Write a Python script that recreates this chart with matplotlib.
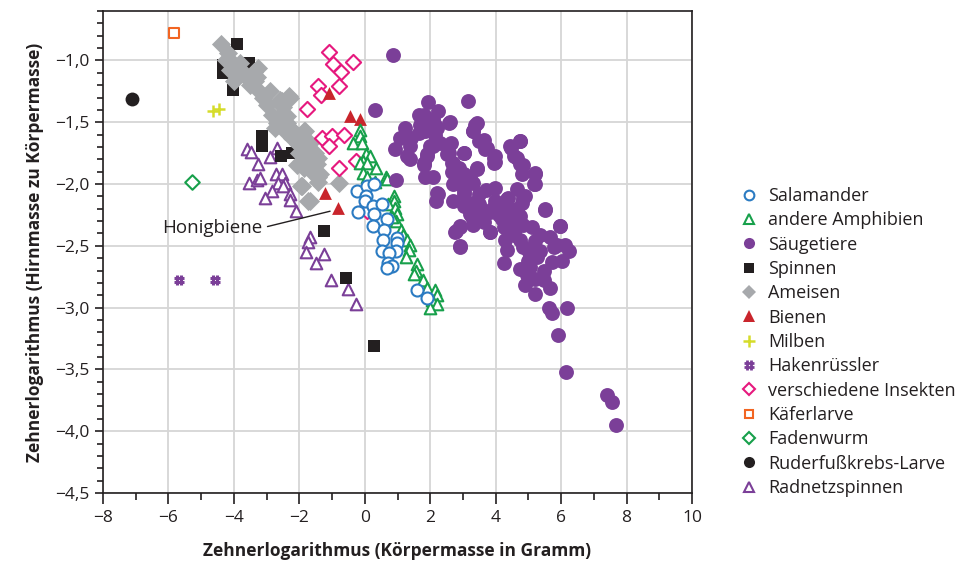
import matplotlib
matplotlib.use("Agg")
import matplotlib.pyplot as plt
from matplotlib.path import Path
from matplotlib.lines import Line2D
from matplotlib.ticker import MultipleLocator, FuncFormatter

plt.rcParams['font.family'] = ['Open Sans', 'DejaVu Sans']

# ---------------- data ----------------
salamander_x = [-0.23, 0.07, 0.29, 0.04, 0.01, -0.20, 0.26, 0.29, 0.53, 0.68, 0.26, 0.59, 0.56,
                0.99, 0.99, 0.96, 0.53, 0.75, 0.72, 0.84, 0.68, 1.60, 1.91]
salamander_y = [-2.06, -2.02, -2.00, -2.10, -2.14, -2.23, -2.18, -2.24, -2.16, -2.28, -2.34, -2.37, -2.45,
                -2.44, -2.48, -2.54, -2.54, -2.56, -2.64, -2.66, -2.68, -2.86, -2.92]

amphib_x = [-0.16, -0.14, -0.35, -0.09, 0.04, 0.17, -0.04, -0.14, 0.08, 0.34, -0.04, 0.08, 0.65, 0.30,
            0.69, 0.88, 0.88, 0.72, 0.93, 0.98, 0.96, 0.83, 1.10, 1.18, 1.29, 1.39, 1.34, 1.27, 1.59,
            1.57, 1.49, 1.78, 1.90, 2.15, 2.20, 2.05, 2.20, 2.00]
amphib_y = [-1.56, -1.61, -1.67, -1.67, -1.76, -1.77, -1.81, -1.83, -1.83, -1.87, -1.91, -1.94, -1.94, -1.98,
            -1.96, -2.10, -2.14, -2.16, -2.19, -2.24, -2.30, -2.27, -2.37, -2.41, -2.45, -2.49, -2.53, -2.59, -2.65,
            -2.70, -2.73, -2.78, -2.84, -2.86, -2.90, -2.94, -2.97, -3.00]

mammal_x = [0.85, 3.14, 1.93, 2.25, 1.67, 2.08, 2.59, 3.43, 1.24, 1.83, 2.20, 3.32, 1.66, 1.08, 1.42, 2.15,
            3.63, 4.75, 2.63, 2.00, 1.39, 0.93, 4.48, 3.73, 3.02, 2.51, 1.90, 1.29, 3.94, 4.55, 1.39, 2.66,
            1.80, 3.99, 4.75, 2.87, 3.43, 2.66, 1.85, 2.10, 3.02, 3.22, 4.80, 5.21, 0.96, 2.92, 3.32, 5.19,
            3.99, 4.65, 2.20, 3.02, 3.48, 4.91, 4.39, 3.99, 2.18, 2.71, 3.32, 4.80, 3.02, 3.53, 4.29, 4.65,
            5.52, 3.83, 3.22, 4.75, 3.53, 4.19, 4.50, 3.32, 3.63, 2.92, 5.98, 4.85, 5.11, 4.24, 2.79, 3.83,
            5.37, 4.55, 4.29, 4.75, 5.21, 5.67, 5.87, 6.13, 6.23, 2.90, 4.35, 4.85, 5.01, 5.37, 5.77, 5.26,
            5.72, 6.03, 4.24, 4.75, 5.06, 5.47, 4.96, 5.21, 4.91, 5.47, 5.67, 5.21, 5.62, 5.72, 6.18, 5.90,
            6.16, 7.40, 7.56, 7.69, 0.32,
            1.80, 1.69, 1.85, 2.15, 2.56, 2.31, 2.10, 1.90, 1.80, 3.38, 3.32, 3.48, 3.68, 3.99, 3.94, 4.45,
            4.75, 4.65, 4.85, 5.21, 5.16, 2.56, 2.71, 3.02, 2.92, 3.43, 2.92, 3.02, 4.35, 4.85, 5.52, 5.98,
            3.83, 3.89, 4.14, 3.48, 3.28, 4.45, 5.06, 2.90, 2.76, 2.25, 2.71, 2.90, 4.60, 5.00, 3.70, 4.10]
mammal_y = [-0.96, -1.33, -1.34, -1.41, -1.44, -1.47, -1.50, -1.51, -1.55, -1.53, -1.55, -1.57, -1.59, -1.63,
            -1.63, -1.60, -1.64, -1.65, -1.67, -1.69, -1.69, -1.72, -1.71, -1.71, -1.75, -1.76, -1.77, -1.77,
            -1.79, -1.77, -1.80, -1.83, -1.85, -1.82, -1.84, -1.87, -1.87, -1.90, -1.94, -1.94, -1.92, -1.95,
            -1.92, -1.92, -1.97, -1.99, -1.99, -2.00, -2.03, -2.04, -2.07, -2.08, -2.08, -2.10, -2.11, -2.14,
            -2.14, -2.14, -2.15, -2.15, -2.18, -2.19, -2.19, -2.20, -2.21, -2.23, -2.24, -2.26, -2.27, -2.28,
            -2.30, -2.33, -2.31, -2.34, -2.34, -2.33, -2.35, -2.35, -2.38, -2.39, -2.41, -2.41, -2.45, -2.45,
            -2.46, -2.43, -2.49, -2.49, -2.54, -2.51, -2.53, -2.51, -2.55, -2.54, -2.51, -2.59, -2.63, -2.62,
            -2.64, -2.69, -2.67, -2.70, -2.74, -2.77, -2.82, -2.78, -2.84, -2.89, -3.00, -3.04, -3.00, -3.22,
            -3.52, -3.71, -3.76, -3.95, -1.40,
            -1.44, -1.52, -1.57, -1.52, -1.51, -1.67, -1.69, -1.76, -1.83, -1.52, -1.57, -1.65, -1.72, -1.77,
            -1.83, -1.69, -1.65, -1.79, -1.85, -1.91, -2.00, -1.75, -1.83, -1.75, -1.98, -1.88, -1.98, -2.06,
            -2.12, -2.11, -2.20, -2.34, -2.39, -2.20, -2.20, -2.16, -2.27, -2.27, -2.57, -2.35, -2.39, -2.08,
            -2.00, -2.50, -2.36, -2.62, -2.05, -2.25]

spider_x = [-3.90, -4.32, -4.32, -3.54, -4.03, -3.14, -3.14, -2.57, -2.23, -1.26, -0.57, 0.27]
spider_y = [-0.87, -1.04, -1.10, -1.02, -1.24, -1.61, -1.69, -1.77, -1.75, -2.38, -2.76, -3.31]

ant_x = [-4.40, -4.17, -4.06, -3.96, -4.12, -3.91, -4.01, -3.71, -3.61, -3.40, -3.25, -3.35, -3.25, -3.10,
         -2.99, -2.84, -2.59, -2.33, -2.49, -2.59, -2.69, -2.38, -2.43, -2.23, -1.82, -2.03, -1.67, -1.88,
         -1.52, -1.72, -2.08, -1.46, -1.62, -1.42, -1.92, -1.72, -0.80,
         -3.61, -3.30, -2.54, -2.28, -2.74, -2.38, -2.28, -1.87, -2.08, -1.77, -1.67, -1.42, -1.36, -1.87,
         -1.42, -1.95, -1.67, -3.80, -4.25, -3.50, -2.90, -2.00, -2.15]
ant_y = [-0.87, -0.94, -1.01, -1.05, -1.08, -1.12, -1.17, -1.09, -1.14, -1.09, -1.06, -1.17, -1.24, -1.30,
         -1.36, -1.44, -1.32, -1.29, -1.38, -1.45, -1.51, -1.51, -1.57, -1.63, -1.57, -1.68, -1.67, -1.73,
         -1.75, -1.80, -1.85, -1.84, -1.90, -1.94, -2.02, -2.14, -1.99,
         -1.13, -1.13, -1.33, -1.30, -1.55, -1.45, -1.55, -1.57, -1.65, -1.71, -1.79, -1.79, -1.92, -1.87,
         -1.98, -2.02, -2.14, -1.02, -1.00, -1.20, -1.25, -1.75, -1.58]

bee_x = [-1.09, -0.45, -0.16, -1.21, -0.82]
bee_y = [-1.26, -1.45, -1.47, -2.07, -2.19]

mite_x = [-4.63, -4.47]
mite_y = [-1.41, -1.39]

hakenr_x = [-5.67, -4.57]
hakenr_y = [-2.78, -2.78]

insect_x = [-1.08, -0.96, -0.35, -0.72, -1.42, -1.33, -0.80, -1.77, -1.31, -0.99, -0.65, -1.08, -0.80,
            -0.27, 0.01, 0.06]
insect_y = [-0.93, -1.03, -1.01, -1.09, -1.21, -1.28, -1.21, -1.39, -1.63, -1.61, -1.60, -1.69, -1.87,
            -1.81, -2.19, -2.22]

kaefer_x = [-5.83]
kaefer_y = [-0.78]

fadenwurm_x = [-5.29]
fadenwurm_y = [-1.98]

krebs_x = [-7.10]
krebs_y = [-1.31]

radnetz_x = [-3.61, -3.48, -2.69, -2.89, -3.25, -3.53, -3.30, -3.20, -2.71, -2.54, -2.64, -2.43, -2.50,
             -2.84, -3.05, -2.28, -2.28, -2.10, -1.67, -1.72, -1.79, -1.26, -1.49, -1.04, -0.50, -0.26]
radnetz_y = [-1.72, -1.74, -1.71, -1.78, -1.84, -1.99, -1.97, -1.95, -1.92, -1.92, -1.99, -1.99, -2.02,
             -2.06, -2.11, -2.08, -2.13, -2.22, -2.43, -2.47, -2.55, -2.57, -2.64, -2.78, -2.85, -2.97]

labels = ["Salamander", "andere Amphibien", "Säugetiere", "Spinnen", "Ameisen", "Bienen", "Milben",
          "Hakenrüssler", "verschiedene Insekten", "Käferlarve", "Fadenwurm", "Ruderfußkrebs-Larve",
          "Radnetzspinnen"]

x_ticks = [-8, -6, -4, -2, 0, 2, 4, 6, 8, 10]
y_ticks = [-4.5, -4.0, -3.5, -3.0, -2.5, -2.0, -1.5, -1.0]

# ---------------- styles ----------------
BLUE = '#2b7bc2'
GREEN = '#17a04b'
PURPLE = '#7b3f98'
BLACK = '#231f20'
GRAY = '#a7a9ac'
RED = '#c9252c'
YELLOW = '#d5dc2a'
PINK = '#e6197e'
ORANGE = '#f26522'

hash_path = Path(
    [(-0.35, -1), (-0.35, 1), (0.35, -1), (0.35, 1), (-1, -0.35), (1, -0.35), (-1, 0.35), (1, 0.35)],
    [Path.MOVETO, Path.LINETO, Path.MOVETO, Path.LINETO, Path.MOVETO, Path.LINETO, Path.MOVETO, Path.LINETO])

fig = plt.figure(figsize=(9.68, 5.64), dpi=100)
ax = fig.add_axes([103 / 968, 1 - 493 / 564, (692 - 103) / 968, (493 - 11) / 564])

ax.set_xlim(-8, 10)
ax.set_ylim(-4.5, -0.6)
ax.set_xticks(x_ticks)
ax.set_yticks(y_ticks)
ax.xaxis.set_minor_locator(MultipleLocator(1))
ax.yaxis.set_minor_locator(MultipleLocator(0.1))
ax.yaxis.set_major_formatter(FuncFormatter(lambda v, p: ("%.1f" % v).replace('.', ',').replace('-', '\u2212')))
ax.xaxis.set_major_formatter(FuncFormatter(lambda v, p: ("%d" % v).replace('-', '\u2212')))
ax.grid(True, which='major', color='#d6d6d6', linewidth=1.3, zorder=0)
ax.set_axisbelow(True)
for s in ax.spines.values():
    s.set_color(BLACK)
    s.set_linewidth(1.2)
ax.tick_params(axis='both', which='both', colors=BLACK, width=1.2, labelsize=12.5, labelcolor=BLACK)
ax.tick_params(axis='x', which='major', length=8, pad=4)
ax.tick_params(axis='x', which='minor', length=5)
ax.tick_params(axis='y', which='major', length=6, pad=4)
ax.tick_params(axis='y', which='minor', length=4)

lw = 1.5
ax.scatter(radnetz_x, radnetz_y, s=70, marker='^', facecolors='white', edgecolors=PURPLE, linewidths=lw, zorder=3)
ax.scatter(spider_x, spider_y, s=70, marker='s', color=BLACK, linewidths=0, zorder=3)
ax.scatter(ant_x, ant_y, s=95, marker='D', color=GRAY, linewidths=0, zorder=4)
ax.scatter(insect_x, insect_y, s=60, marker='D', facecolors='white', edgecolors=PINK, linewidths=lw, zorder=4)
ax.scatter(bee_x, bee_y, s=85, marker='^', color=RED, linewidths=0, zorder=5)
ax.scatter(amphib_x, amphib_y, s=70, marker='^', facecolors='white', edgecolors=GREEN, linewidths=lw, zorder=5)
ax.scatter(salamander_x, salamander_y, s=75, marker='o', facecolors='white', edgecolors=BLUE, linewidths=lw, zorder=6)
ax.scatter(mammal_x, mammal_y, s=115, marker='o', color=PURPLE, linewidths=0, zorder=5)
ax.scatter(mite_x, mite_y, s=70, marker='+', color=YELLOW, linewidths=1.8, zorder=5)
ax.scatter(hakenr_x, hakenr_y, s=45, marker=hash_path, color=PURPLE, linewidths=2.2, zorder=5)
ax.scatter(kaefer_x, kaefer_y, s=55, marker='s', facecolors='white', edgecolors=ORANGE, linewidths=lw, zorder=5)
ax.scatter(fadenwurm_x, fadenwurm_y, s=55, marker='D', facecolors='white', edgecolors=GREEN, linewidths=lw, zorder=5)
ax.scatter(krebs_x, krebs_y, s=100, marker='o', color=BLACK, linewidths=0, zorder=5)

ax.annotate("Honigbiene", xy=(-1.06, -2.22), xytext=(-3.14, -2.355), textcoords='data',
            ha='right', va='center', fontsize=13.5, color=BLACK,
            arrowprops=dict(arrowstyle='-', color=BLACK, lw=1.0, shrinkA=2, shrinkB=0, relpos=(1, 0.5)),
            zorder=7)

ax.set_xlabel("Zehnerlogarithmus (Körpermasse in Gramm)", fontsize=12.5, fontweight='bold', color=BLACK, labelpad=12)
ax.set_ylabel("Zehnerlogarithmus (Hirnmasse zu Körpermasse)", fontsize=12.5, fontweight='bold', color=BLACK, labelpad=8)

ms = 7
handles = [
    Line2D([], [], ls='none', marker='o', markersize=ms, markerfacecolor='white', markeredgecolor=BLUE, markeredgewidth=1.5),
    Line2D([], [], ls='none', marker='^', markersize=ms, markerfacecolor='white', markeredgecolor=GREEN, markeredgewidth=1.5),
    Line2D([], [], ls='none', marker='o', markersize=ms + 1, color=PURPLE, markeredgewidth=0),
    Line2D([], [], ls='none', marker='s', markersize=ms, color=BLACK, markeredgewidth=0),
    Line2D([], [], ls='none', marker='D', markersize=ms, color=GRAY, markeredgewidth=0),
    Line2D([], [], ls='none', marker='^', markersize=ms + 1, color=RED, markeredgewidth=0),
    Line2D([], [], ls='none', marker='+', markersize=ms + 1, color=YELLOW, markeredgewidth=1.8),
    Line2D([], [], ls='none', marker=hash_path, markersize=ms, color=PURPLE, markeredgewidth=2.0),
    Line2D([], [], ls='none', marker='D', markersize=ms - 1, markerfacecolor='white', markeredgecolor=PINK, markeredgewidth=1.5),
    Line2D([], [], ls='none', marker='s', markersize=ms - 1, markerfacecolor='white', markeredgecolor=ORANGE, markeredgewidth=1.5),
    Line2D([], [], ls='none', marker='D', markersize=ms - 1, markerfacecolor='white', markeredgecolor=GREEN, markeredgewidth=1.5),
    Line2D([], [], ls='none', marker='o', markersize=ms + 1, color=BLACK, markeredgewidth=0),
    Line2D([], [], ls='none', marker='^', markersize=ms, markerfacecolor='white', markeredgecolor=PURPLE, markeredgewidth=1.5),
]
fig.legend(handles, labels, loc='upper left', bbox_to_anchor=(740 / 968, 1 - 187 / 564),
           frameon=False, fontsize=13, handlelength=1.0, handletextpad=0.55, labelspacing=0.35,
           borderpad=0, borderaxespad=0, labelcolor=BLACK)

fig.savefig("out.png", dpi=100)
